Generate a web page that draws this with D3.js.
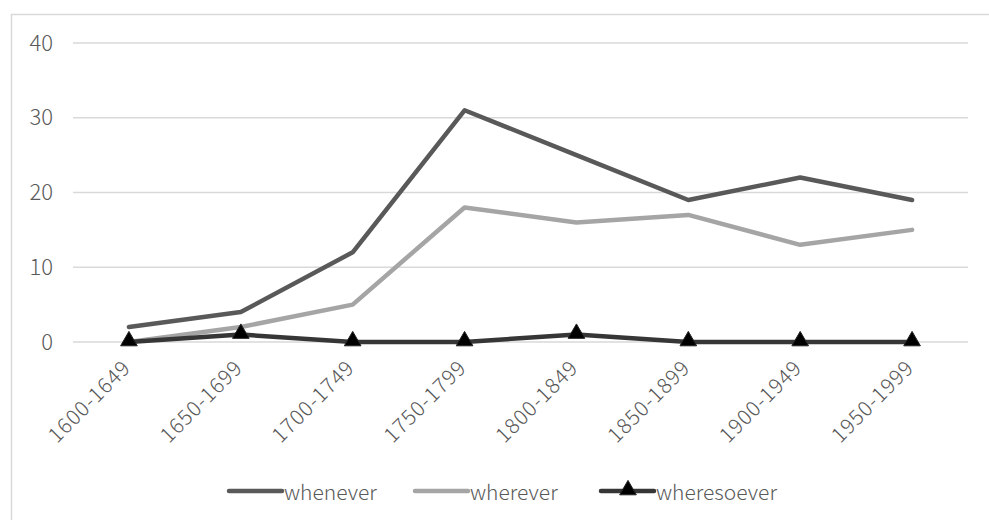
<!DOCTYPE html>
<html>
<head>
<meta charset="utf-8">
<script src="https://cdn.jsdelivr.net/npm/d3@7/dist/d3.min.js"></script>
<style>
  html, body { margin: 0; padding: 0; background: #fff; }
  svg { display: block; font-family: "Noto Sans CJK JP", "Noto Sans", sans-serif; }
</style>
</head>
<body>
<svg id="chart" width="989" height="520"></svg>
<script>
// Periods on the category axis
const periods = ["1600-1649", "1650-1699", "1700-1749", "1750-1799",
                 "1800-1849", "1850-1899", "1900-1949", "1950-1999"];
// Occurrence counts per period
const whenever    = [2, 4, 12, 31, 25, 19, 22, 19];
const wherever    = [0, 2, 5, 18, 16, 17, 13, 15];
const wheresoever = [0, 1, 0, 0, 1, 0, 0, 0];
const yTicks = [0, 10, 20, 30, 40];

const series = [
  { name: "whenever",    values: whenever,    color: "#595959", marker: false },
  { name: "wherever",    values: wherever,    color: "#a5a5a5", marker: false },
  { name: "wheresoever", values: wheresoever, color: "#363636", marker: true }
];

const FONT = "'Noto Sans CJK JP', 'Noto Sans', sans-serif";
const svg = d3.select("#chart");

// Outer chart frame
svg.append("rect")
  .attr("x", 11.5).attr("y", 14.5)
  .attr("width", 990).attr("height", 520)
  .attr("fill", "none").attr("stroke", "#d9d9d9").attr("stroke-width", 1.5);

const x = d3.scaleBand().domain(periods).range([73, 968]);
const y = d3.scaleLinear().domain([0, 40]).range([342, 43]);

// Gridlines
svg.append("g")
  .selectAll("line").data(yTicks).join("line")
  .attr("x1", 73).attr("x2", 968)
  .attr("y1", d => y(d)).attr("y2", d => y(d))
  .attr("stroke", "#d9d9d9").attr("stroke-width", 1.5);

// Y axis labels
const yAxis = d3.axisLeft(y).tickValues(yTicks).tickSize(0).tickPadding(0);
const gy = svg.append("g").attr("transform", "translate(53,0)").call(yAxis);
gy.select(".domain").remove();
gy.attr("font-size", null).attr("font-family", null);
gy.selectAll("text")
  .attr("fill", "#595959").attr("font-size", 22).attr("font-weight", 300)
  .attr("font-family", FONT);

// X axis labels, rotated
const xAxis = d3.axisBottom(x).tickSize(0).tickPadding(0);
const gx = svg.append("g").attr("transform", "translate(0,342)").call(xAxis);
gx.select(".domain").remove();
gx.attr("font-size", null).attr("font-family", null);
gx.selectAll("text")
  .attr("fill", "#595959").attr("font-size", 21).attr("font-weight", 300)
  .attr("font-family", FONT)
  .attr("letter-spacing", 1)
  .attr("text-anchor", "end")
  .attr("dy", null)
  .attr("y", 0)
  .attr("dominant-baseline", "middle")
  .attr("transform", "translate(-1,23) rotate(-45)");

const cx = d => x(d) + x.bandwidth() / 2;
const line = d3.line()
  .x((v, i) => cx(periods[i]))
  .y(v => y(v));

const tri = d3.symbol().type(d3.symbolTriangle).size(120);

series.forEach(s => {
  svg.append("path")
    .datum(s.values)
    .attr("d", line)
    .attr("fill", "none")
    .attr("stroke", s.color)
    .attr("stroke-width", 4.5)
    .attr("stroke-linejoin", "round")
    .attr("stroke-linecap", "round");
  if (s.marker) {
    svg.append("g").selectAll("path").data(s.values).join("path")
      .attr("d", tri)
      .attr("transform", (v, i) => `translate(${cx(periods[i])},${y(v) - 1})`)
      .attr("fill", "#000").attr("stroke", "#222").attr("stroke-width", 1);
  }
});

// Legend
const legendItems = [
  { s: series[0], x: 229 },
  { s: series[1], x: 415 },
  { s: series[2], x: 601 }
];
const lg = svg.append("g");
legendItems.forEach(it => {
  lg.append("line")
    .attr("x1", it.x).attr("x2", it.x + 53)
    .attr("y1", 491).attr("y2", 491)
    .attr("stroke", it.s.color).attr("stroke-width", 4.5)
    .attr("stroke-linecap", "round");
  if (it.s.marker) {
    lg.append("path").attr("d", tri)
      .attr("transform", `translate(${it.x + 27},${490})`)
      .attr("fill", "#000").attr("stroke", "#222").attr("stroke-width", 1);
  }
  lg.append("text")
    .attr("x", it.x + 55).attr("y", 491)
    .attr("dominant-baseline", "central")
    .attr("fill", "#595959").attr("font-size", 21).attr("font-weight", 300)
    .attr("font-family", FONT)
    .text(it.s.name);
});
</script>
</body>
</html>
